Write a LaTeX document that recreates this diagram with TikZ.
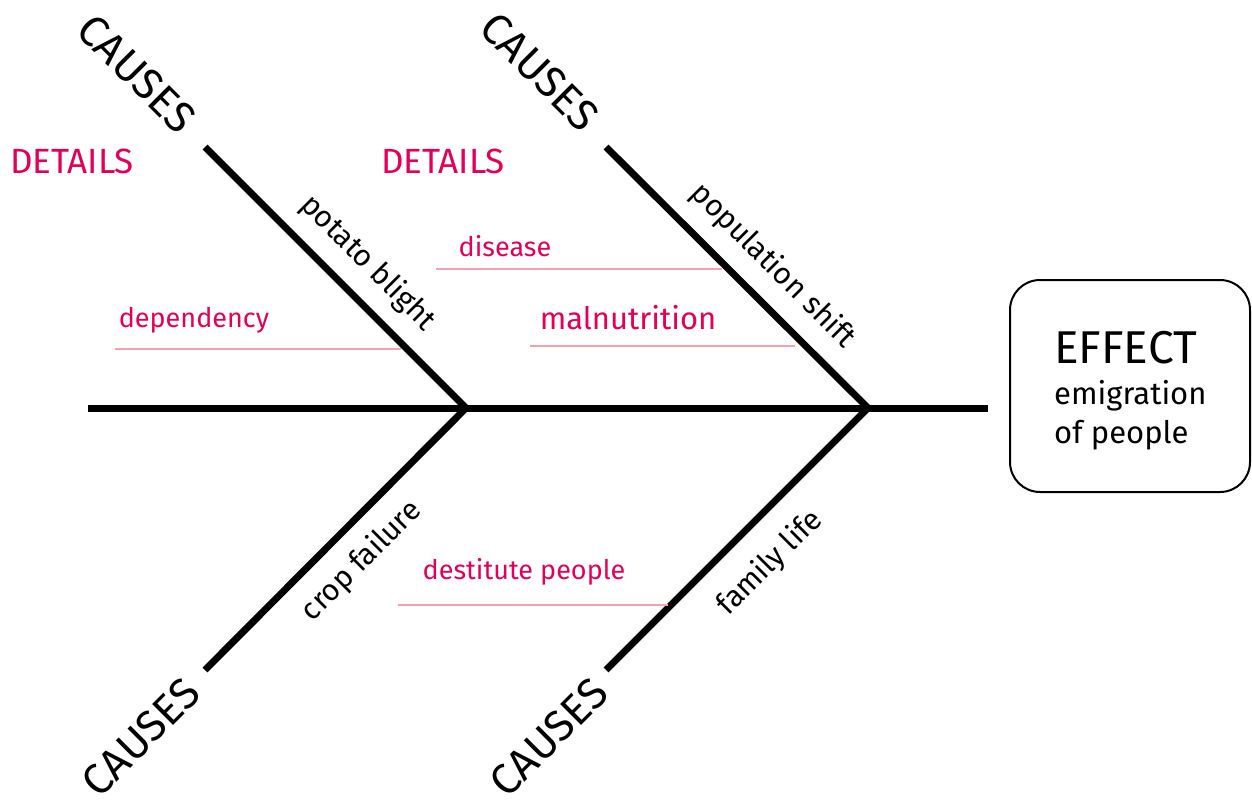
\documentclass[tikz,border=0pt]{standalone}
\usepackage{fontspec}
\setmainfont{Fira Sans}
\definecolor{detailred}{HTML}{E2005A}
\definecolor{detailline}{HTML}{F4A3AC}
\begin{document}
\begin{tikzpicture}[x=1pt,y=-1pt,
  bone/.style={line width=7pt,line cap=butt},
  detline/.style={detailline,line width=2pt},
  causes/.style={font=\fontsize{43}{43}\selectfont,inner sep=0pt},
  bonelabel/.style={font=\fontsize{30}{30}\selectfont,inner sep=0pt},
  dettitle/.style={font=\fontsize{35}{35}\selectfont,text=detailred,inner sep=0pt},
  detail/.style={font=\fontsize{27}{27}\selectfont,text=detailred,inner sep=0pt},
  effectbox/.style={draw,line width=2pt,rounded corners=30pt,minimum width=240pt,minimum height=212pt},
  efftext/.style={anchor=base west,inner sep=0pt}]
\useasboundingbox (0,0) rectangle (1252,800);
% coordinates
\coordinate (S0) at (88,408);
\coordinate (J1) at (466,408);
\coordinate (J2) at (868,408);
\coordinate (S1) at (988,408);
\coordinate (TL) at (205,147);
\coordinate (TR) at (606,147);
\coordinate (BL) at (205,670);
\coordinate (BR) at (606,670);
% spine and bones
\draw[bone] (S0) -- (S1);
\draw[bone] (TL) -- (J1) -- (BL);
\draw[bone] (TR) -- (J2) -- (BR);
% cause titles
\node[causes,rotate=-45] (c1) at (137,74) {CAUSES};
\node[causes,rotate=-45] (c2) at (540,72) {CAUSES};
\node[causes,rotate=45] (c3) at (141,737) {CAUSES};
\node[causes,rotate=45] (c4) at (549,737) {CAUSES};
% bone labels
\node[bonelabel,rotate=-45] (b1) at (368,263) {potato blight};
\node[bonelabel,rotate=-45] (b2) at (773,266) {population shift};
\node[bonelabel,rotate=45] (b3) at (362,561) {crop failure};
\node[bonelabel,rotate=45] (b4) at (770,563) {family life};
% details titles
\node[dettitle] (d1) at (72,161) {DETAILS};
\node[dettitle] (d2) at (443,161) {DETAILS};
% detail items
\node[detail] (i1) at (505,246) {disease};
\coordinate (i1a) at (436,269); \coordinate (i1b) at (722,269);
\draw[detline] (i1a) -- (i1b);
\node[detail,font=\fontsize{31}{31}\selectfont] (i2) at (628,318) {malnutrition};
\coordinate (i2a) at (530,346); \coordinate (i2b) at (795,346);
\draw[detline] (i2a) -- (i2b);
\node[detail] (i3) at (194,320) {dependency};
\coordinate (i3a) at (115,349); \coordinate (i3b) at (401,349);
\draw[detline] (i3a) -- (i3b);
\node[detail] (i4) at (524,572) {destitute people};
\coordinate (i4a) at (398,605); \coordinate (i4b) at (668,605);
\draw[detline] (i4a) -- (i4b);
% effect box
\node[effectbox] (eff) at (1130,386) {};
\node[efftext,font=\fontsize{46}{46}\selectfont] (et) at (1054,363) {EFFECT};
\node[efftext,font=\fontsize{31}{31}\selectfont] (e1) at (1054,404) {emigration};
\node[efftext,font=\fontsize{31}{31}\selectfont] (e2) at (1054,443) {of people};
\end{tikzpicture}
\end{document}
